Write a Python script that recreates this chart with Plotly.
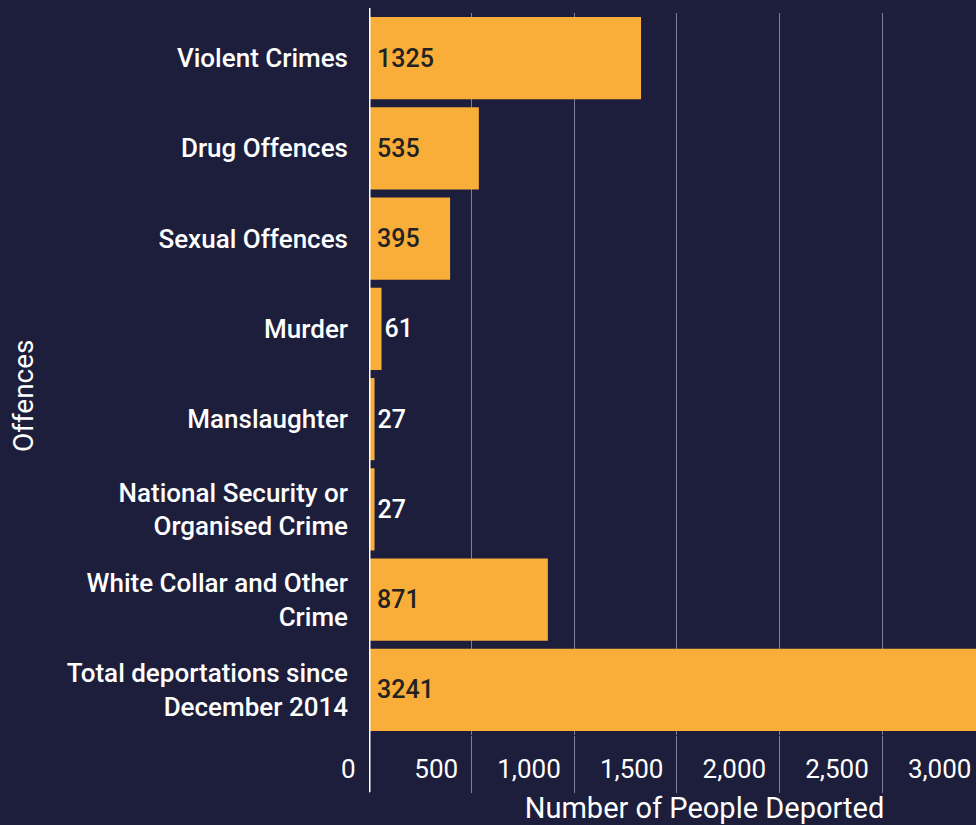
import plotly.graph_objects as go

categories = [
    "Violent Crimes",
    "Drug Offences",
    "Sexual Offences",
    "Murder",
    "Manslaughter",
    "National Security or<br>Organised Crime",
    "White Collar and Other<br>Crime",
    "Total deportations since<br>December 2014",
]
values = [1325, 535, 395, 61, 27, 27, 871, 3241]
tick_vals = [0, 500, 1000, 1500, 2000, 2500, 3000]
tick_text = ["0", "500", "1,000", "1,500", "2,000", "2,500", "3,000"]

BG = "#1d1e3c"
BAR = "#f9ae39"
GRID = "#7d7f96"
FONT = "Roboto"

text_pos = ["inside" if v > 200 else "outside" for v in values]
bar_text = [("\u2009" + str(v)) if v > 200 else str(v) for v in values]

fig = go.Figure(
    go.Bar(
        y=categories,
        x=values,
        orientation="h",
        marker=dict(color=BAR, line=dict(width=0)),
        text=bar_text,
        textposition=text_pos,
        insidetextanchor="start",
        insidetextfont=dict(family=FONT, size=25, color="#222222", weight=500),
        outsidetextfont=dict(family=FONT, size=25, color="#ffffff", weight=500),
        cliponaxis=False,
        width=0.91,
    )
)

fig.update_layout(
    width=1040,
    height=825,
    margin=dict(l=369, r=0, t=13, b=90),
    paper_bgcolor=BG,
    plot_bgcolor=BG,
    showlegend=False,
    font=dict(family=FONT, color="#ffffff"),
)

fig.update_yaxes(
    autorange="reversed",
    showgrid=False,
    zeroline=False,
    showline=False,
    ticks="",
    ticklabelstandoff=20,
    tickfont=dict(family=FONT, size=26, color="#ffffff", weight=500),
)

fig.update_xaxes(
    range=[0, 3268],
    tickvals=tick_vals,
    ticktext=tick_text,
    showgrid=True,
    gridcolor=GRID,
    gridwidth=1,
    zeroline=False,
    showline=False,
    ticks="outside",
    ticklen=57,
    tickwidth=1,
    tickcolor=GRID,
    ticklabelposition="outside left",
    ticklabelstandoff=11,
    ticklabelshift=-13,
    tickfont=dict(family=FONT, size=26, color="#ffffff"),
    title=dict(text="Number of People Deported", font=dict(family=FONT, size=29, color="#ffffff"), standoff=14),
)

# white zero line extending below the plot
fig.add_shape(
    type="line", xref="x", yref="paper",
    x0=0, x1=0, y0=-0.079, y1=1.007,
    line=dict(color="#ffffff", width=3),
    layer="above",
)

fig.add_annotation(
    text="Offences", xref="paper", yref="paper",
    x=-0.515, y=0.47, xanchor="center", yanchor="middle",
    textangle=-90, showarrow=False,
    font=dict(family=FONT, size=28, color="#ffffff"),
)

fig.write_html("out.html", post_script="document.body.style.overflow='hidden';document.documentElement.style.overflow='hidden';")
